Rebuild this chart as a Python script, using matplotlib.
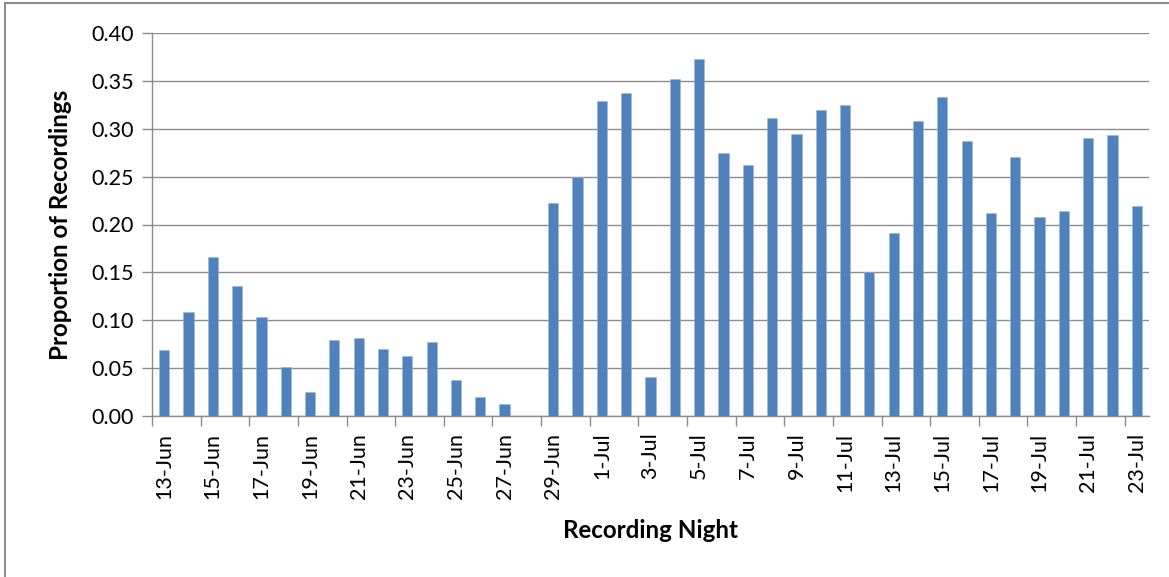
import matplotlib
matplotlib.use('Agg')
import matplotlib.pyplot as plt
import matplotlib.patches as mpatches
import numpy as np
import pandas as pd

plt.rcParams['font.family'] = ['Lato', 'DejaVu Sans']

# one value per recording night, 13 Jun - 23 Jul (no recordings on 28 Jun)
nights = pd.date_range('2013-06-13', '2013-07-23', freq='D')
proportion = [0.069, 0.109, 0.166, 0.136, 0.103, 0.051, 0.025, 0.079, 0.081, 0.070,
              0.063, 0.077, 0.038, 0.020, 0.013, 0.000, 0.222, 0.250, 0.329, 0.337,
              0.041, 0.352, 0.373, 0.275, 0.262, 0.311, 0.294, 0.320, 0.325, 0.150,
              0.191, 0.308, 0.333, 0.287, 0.212, 0.270, 0.208, 0.214, 0.290, 0.293,
              0.219]
labels = [f"{d.day}-{d.strftime('%b')}" for d in nights]

grid_col = '#8c8c8c'

fig = plt.figure(figsize=(11.69, 5.77), dpi=100)
ax = fig.add_axes([152/1169, 1 - 416/577, (1149 - 152)/1169, (416 - 33)/577])

x = np.arange(len(proportion))
ax.bar(x, proportion, width=0.42, color='#4F81BD', edgecolor='#9DB7D9',
       linewidth=0.4, zorder=3)

ax.set_xlim(-0.5, len(proportion) - 0.5)
ax.set_ylim(0, 0.40)
ax.set_yticks(np.arange(0, 0.401, 0.05))
ax.set_yticklabels([f'{v:.2f}' for v in np.arange(0, 0.401, 0.05)])
ax.yaxis.grid(True, color=grid_col, linewidth=1.0, zorder=0)

# labels on every second night, tick marks on category boundaries
ax.set_xticks(x[::2])
ax.set_xticklabels(labels[::2], rotation=90)
ax.set_xticks(np.arange(-0.5, len(proportion) - 0.5, 2), minor=True)
ax.tick_params(axis='x', which='major', length=0, pad=12, labelsize=15.5)
ax.tick_params(axis='x', which='minor', length=7, width=1.0, color=grid_col,
               direction='out')
ax.tick_params(axis='y', length=7, width=1.0, color=grid_col, pad=6,
               labelsize=15.5)

for s in ['top', 'right']:
    ax.spines[s].set_visible(False)
for s in ['left', 'bottom']:
    ax.spines[s].set_color(grid_col)
    ax.spines[s].set_linewidth(1.0)

ax.set_xlabel('Recording Night', fontsize=17.4, fontweight='bold')
ax.xaxis.set_label_coords(0.5, -0.27)
ax.set_ylabel('Proportion of Recordings', fontsize=17.4, fontweight='bold')
ax.yaxis.set_label_coords(-0.080, 0.5)

# chart-area frame
fig.patches.append(mpatches.Rectangle((5/1169, -0.1), 1.2, (574/577) + 0.1,
                                      transform=fig.transFigure, fill=False,
                                      edgecolor='#8c8c8c', linewidth=1.5))

fig.savefig('out.png', dpi=100)
